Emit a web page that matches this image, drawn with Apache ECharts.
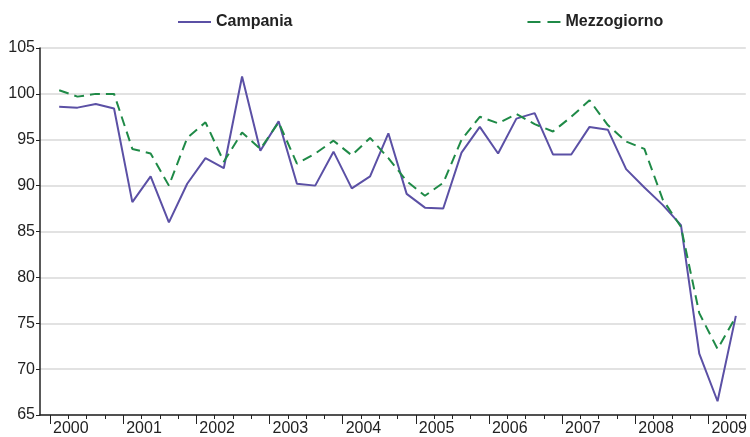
<!DOCTYPE html>
<html>
<head>
<meta charset="utf-8">
<script src="https://cdn.jsdelivr.net/npm/echarts@6/dist/echarts.min.js"></script>
<style>
  html, body { margin: 0; padding: 0; background: #fff; }
  #chart { width: 750px; height: 437px; }
</style>
</head>
<body>
<div id="chart"></div>
<script>
// anni e trimestri (2000T1 - 2009T2)
var years = ['2000', '2001', '2002', '2003', '2004', '2005', '2006', '2007', '2008', '2009'];
var quarters = [];
years.forEach(function (y) {
    ['T1', 'T2', 'T3', 'T4'].forEach(function (q) { quarters.push(y + q); });
});
quarters = quarters.slice(0, 38);

var campania = [
    98.6, 98.5, 98.9, 98.4,
    88.2, 91.0, 86.0, 90.2,
    93.0, 91.9, 101.9, 93.8,
    97.0, 90.2, 90.0, 93.7,
    89.7, 91.0, 95.7, 89.1,
    87.6, 87.5, 93.6, 96.4,
    93.5, 97.3, 97.9, 93.4,
    93.4, 96.4, 96.1, 91.8,
    89.8, 87.9, 85.7, 71.7,
    66.5, 75.8
];
var mezzogiorno = [
    100.4, 99.7, 100.0, 100.0,
    94.0, 93.5, 90.0, 95.2,
    96.9, 92.6, 95.8, 94.0,
    96.9, 92.4, 93.5, 94.9,
    93.3, 95.2, 93.0, 90.5,
    88.9, 90.3, 95.0, 97.5,
    96.8, 97.8, 96.7, 95.9,
    97.5, 99.3, 96.6, 94.8,
    94.0, 88.5, 85.5, 76.1,
    72.2, 75.7
];

function pairs(arr) {
    return arr.map(function (v, i) { return [i, v]; });
}

// tacche: trimestri e inizio anno
var quarterTicks = [];
for (var i = 0; i <= quarters.length; i++) quarterTicks.push(i - 0.5);
var yearTicks = [];
for (var k = 0; k < years.length; k++) yearTicks.push(k * 4 - 0.5);

var xMin = -1.049, xMax = 37.544;

var myChart = echarts.init(document.getElementById('chart'));
myChart.setOption({
    animation: false,
    textStyle: { fontFamily: 'Liberation Sans, Arial, sans-serif' },
    legend: {
        top: 9,
        left: 172,
        itemGap: 234,
        itemWidth: 33,
        itemHeight: 12,
        itemStyle: { opacity: 0 },
        textStyle: { fontSize: 16, fontWeight: 'bold', color: '#222' },
        data: [
            { name: 'Campania' },
            { name: 'Mezzogiorno', lineStyle: { type: [13, 7] } }
        ]
    },
    grid: { left: 40, right: 0, top: 48, bottom: 22 },
    xAxis: [
        {
            type: 'value',
            min: xMin, max: xMax,
            axisLine: { show: true, onZero: false, lineStyle: { color: '#222', width: 1.5 } },
            axisTick: { show: true, length: 4, customValues: quarterTicks, lineStyle: { color: '#222', width: 1 } },
            axisLabel: { show: false },
            splitLine: { show: false }
        },
        {
            type: 'value',
            position: 'bottom',
            min: xMin, max: xMax,
            axisLine: { show: false, onZero: false },
            axisTick: { show: true, length: 9, customValues: yearTicks, lineStyle: { color: '#222', width: 1 } },
            axisLabel: {
                show: true,
                customValues: yearTicks,
                align: 'left',
                margin: 6,
                padding: [0, 0, 0, 3],
                fontSize: 16,
                color: '#222',
                formatter: function (v) { return years[Math.round((v + 0.5) / 4)]; }
            },
            splitLine: { show: false }
        }
    ],
    yAxis: {
        type: 'value',
        min: 65, max: 105, interval: 5,
        axisLine: { show: true, onZero: false, lineStyle: { color: '#222', width: 1.5 } },
        axisTick: { show: true, length: 4, lineStyle: { color: '#222' } },
        axisLabel: { fontSize: 16, color: '#222', margin: 5 },
        splitLine: { lineStyle: { color: '#d9d9d9', width: 1.5 } }
    },
    series: [
        {
            name: 'Campania',
            type: 'line',
            symbol: 'none',
            data: pairs(campania),
            itemStyle: { color: '#5b50a5' },
            lineStyle: { color: '#5b50a5', width: 2 }
        },
        {
            name: 'Mezzogiorno',
            type: 'line',
            symbol: 'none',
            data: pairs(mezzogiorno),
            itemStyle: { color: '#1f8a47' },
            lineStyle: { color: '#1f8a47', width: 2, type: [10, 6] }
        }
    ]
});
</script>
</body>
</html>
